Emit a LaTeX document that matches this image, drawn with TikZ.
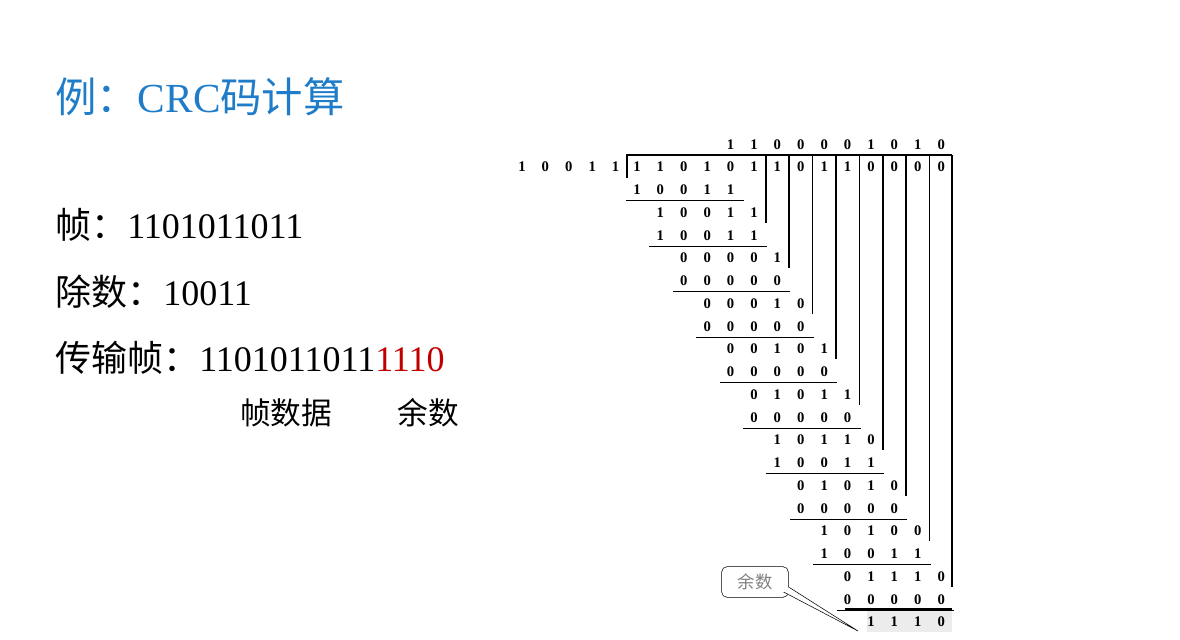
\documentclass[tikz,border=0pt]{standalone}
\usepackage{fontspec}
\setmainfont{Liberation Serif}
\newfontfamily\cjk{Noto Sans CJK SC}
\definecolor{tblue}{HTML}{1E7CC8}
\definecolor{tred}{HTML}{C00000}
\begin{document}
\begin{tikzpicture}[x=0.75pt,y=-0.75pt,
  dig/.style={inner sep=0pt,anchor=center,font=\fontsize{11}{11}\selectfont\bfseries},
  ul/.style={line width=1pt},
  vl/.style={line width=1.2pt}]
\useasboundingbox (0,0) rectangle (1180,639);
\node[anchor=west,inner sep=0pt,text=tblue,font=\fontsize{31}{31}\selectfont] (title) at (55,97) {{\cjk 例：}CRC{\cjk 码计算}};
\node[anchor=west,inner sep=0pt,font=\fontsize{27}{27}\selectfont] (t1) at (55,225) {{\cjk 帧：}1101011011};
\node[anchor=west,inner sep=0pt,font=\fontsize{27}{27}\selectfont] (t2) at (55,292) {{\cjk 除数：}10011};
\node[anchor=west,inner sep=0pt,font=\fontsize{27}{27}\selectfont] (t3) at (55,358) {{\cjk 传输帧：}1101011011\textcolor{tred}{1110}};
\node[inner sep=0pt,font=\fontsize{23}{23}\selectfont\cjk] (l1) at (286,413) {帧数据};
\node[inner sep=0pt,font=\fontsize{23}{23}\selectfont\cjk] (l2) at (428,413) {余数};
% quotient
\foreach \d [count=\i from 4] in {1,1,0,0,0,0,1,0,1,0}
  \node[dig] (q\i) at ({637+23.4*\i},145) {\d};
% divisor
\foreach \d [count=\i from 0] in {1,0,0,1,1}
  \node[dig] (v\i) at ({522+23.4*\i},167) {\d};
% dividend
\foreach \d [count=\i from 0] in {1,1,0,1,0,1,1,0,1,1,0,0,0,0}
  \node[dig] (d\i) at ({637+23.4*\i},167) {\d};
\draw[vl] (627,178) -- (627,155) -- (952,155);
% rows
\foreach \k/\c/\da/\db/\dc/\dd/\de/\u in {1/0/1/0/0/1/1/1,2/1/1/0/0/1/1/0,3/1/1/0/0/1/1/1,
  4/2/0/0/0/0/1/0,5/2/0/0/0/0/0/1,6/3/0/0/0/1/0/0,7/3/0/0/0/0/0/1,
  8/4/0/0/1/0/1/0,9/4/0/0/0/0/0/1,10/5/0/1/0/1/1/0,11/5/0/0/0/0/0/1,
  12/6/1/0/1/1/0/0,13/6/1/0/0/1/1/1,14/7/0/1/0/1/0/0,15/7/0/0/0/0/0/1,
  16/8/1/0/1/0/0/0,17/8/1/0/0/1/1/1,18/9/0/1/1/1/0/0,19/9/0/0/0/0/0/1}{
  \foreach \ch [count=\j from 0] in {\da,\db,\dc,\dd,\de}
    \node[dig] (r\k-\j) at ({637+23.4*(\c+\j)},{167+22.75*\k}) {\ch};
  \ifnum\u=1 \draw[ul] ({637+23.4*\c-11},{167+22.75*\k+11}) -- ({637+23.4*(\c+4)+13},{167+22.75*\k+11});\fi
}
% vertical lines
\foreach \c/\k in {5/2,6/4,7/6,8/8,9/10,10/12,11/14,12/16}
  \draw[vl] ({637+23.4*\c+11.7},155) -- ({637+23.4*\c+11.7},{167+22.75*\k+10});
\draw[vl] (952,155) -- (952,{167+22.75*18+10});
% remainder
\fill[gray!15] (867,611) rectangle (952,632);
\foreach \d [count=\i from 10] in {1,1,1,0}
  \node[dig] (m\i) at ({637+23.4*\i},622) {\d};
\draw[ul] (845,609) -- (952,609);
% callout
\node[draw,rounded corners=4pt,minimum width=50pt,minimum height=23pt,inner sep=1pt,text=gray,font=\fontsize{13}{13}\selectfont\cjk] (co) at (755,582) {余数};
\coordinate (tip) at (858,631);
\path (co.east) ++(0,5) coordinate (a1) (co.east) ++(-5,10) coordinate (a2);
\draw[fill=white] (a1) -- (tip) -- (a2);
\end{tikzpicture}
\end{document}
